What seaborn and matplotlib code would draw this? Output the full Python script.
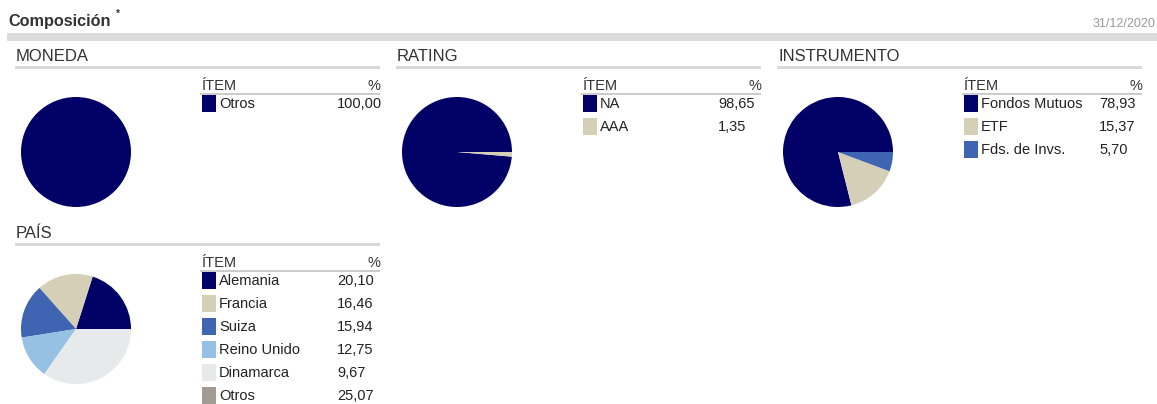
import matplotlib
matplotlib.use("Agg")
import matplotlib.pyplot as plt
from matplotlib.patches import Rectangle
import seaborn as sns

# Data
titulo = "Composición"
fecha = "31/12/2020"

moneda_items = ["Otros"]
moneda_pct = [100.00]

rating_items = ["NA", "AAA"]
rating_pct = [98.65, 1.35]

instrumento_items = ["Fondos Mutuos", "ETF", "Fds. de Invs."]
instrumento_pct = [78.93, 15.37, 5.70]

pais_items = ["Alemania", "Francia", "Suiza", "Reino Unido", "Dinamarca", "Otros"]
pais_pct = [20.10, 16.46, 15.94, 12.75, 9.67, 25.07]

sns.set_style("white")
plt.rcParams["font.family"] = ["Liberation Sans", "DejaVu Sans"]

# colours used by the site
legend_colors = sns.color_palette(["#000066", "#d6cfb7", "#3f64b1", "#96c1e4", "#e6eaea", "#a39b93"])
# in the pie "Otros" of PAÍS shows in the same light grey as Dinamarca
pie_colors_pais = legend_colors[:5] + [legend_colors[4]]

W, H = 1157, 404
fig = plt.figure(figsize=(W / 100, H / 100), dpi=100)
bg = fig.add_axes([0, 0, 1, 1])
bg.set_xlim(0, W)
bg.set_ylim(H, 0)
bg.axis("off")

# header
bg.text(8, 26, titulo, fontsize=11.7, fontweight="bold", color="#333333", va="baseline")
bg.text(116, 17, "*", fontsize=7, fontweight="bold", color="#333333", va="baseline")
bg.text(1155, 27, fecha, fontsize=9, color="#999999", ha="right", va="baseline")
bg.add_patch(Rectangle((7, 33), W - 7, 8, color="#dcdcdc", lw=0))


def fmt(v):
    return f"{v:.2f}".replace(".", ",")


def panel(x0, line_y, name, items, pct, pie_colors):
    # section title + underline
    bg.text(x0 + 1, line_y - 6, name, fontsize=12, color="#333333", va="baseline")
    bg.add_patch(Rectangle((x0, line_y - 1.5), 365, 3.5, color="#d9d9d9", lw=0))

    # pie
    cx, cy, r = x0 + 61, line_y + 85, 55
    ax = fig.add_axes([(cx - r) / W, 1 - (cy + r) / H, 2 * r / W, 2 * r / H])
    ax.pie(pct, colors=pie_colors, startangle=0, counterclock=True,
           wedgeprops=dict(linewidth=0))
    ax.set_xlim(-1, 1)
    ax.set_ylim(-1, 1)
    ax.axis("off")

    # legend table
    lx = x0 + 187
    hy = line_y + 26
    bg.text(lx, hy - 3, "ÍTEM", fontsize=10.5, color="#333333", va="baseline")
    bg.text(x0 + 365, hy - 3, "%", fontsize=10.5, color="#333333", va="baseline", ha="right")
    bg.add_patch(Rectangle((lx - 2, hy - 0.5), x0 + 365 - lx + 2, 2, color="#cccccc", lw=0))
    for i, (it, v) in enumerate(zip(items, pct)):
        top = hy + 1.5 + 23.1 * i
        bg.add_patch(Rectangle((lx, top), 14, 17, color=legend_colors[i], lw=0))
        bg.text(lx + 17, top + 13.5, it, fontsize=10.5, color="#222222", va="baseline")
        bg.text(lx + 135, top + 13.5, fmt(v), fontsize=10.5, color="#222222", va="baseline")


panel(15, 67, "MONEDA", moneda_items, moneda_pct, legend_colors)
panel(396, 67, "RATING", rating_items, rating_pct, legend_colors)
panel(777, 67, "INSTRUMENTO", instrumento_items, instrumento_pct, legend_colors)
panel(15, 244, "PAÍS", pais_items, pais_pct, pie_colors_pais)

fig.savefig("out.png", dpi=100, facecolor="white")
